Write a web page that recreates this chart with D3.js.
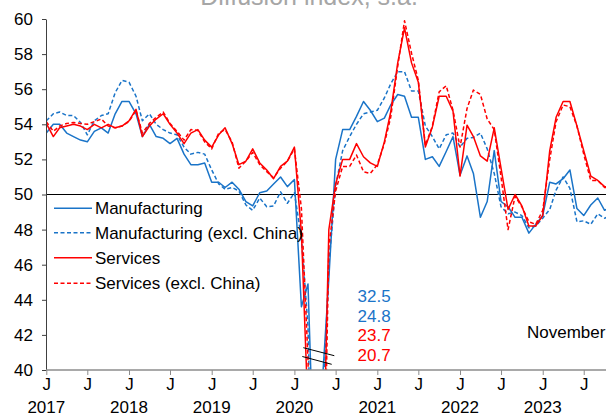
<!DOCTYPE html>
<html><head><meta charset="utf-8">
<script src="https://cdn.jsdelivr.net/npm/d3@7"></script>
<style>body{margin:0;background:#fff}svg{display:block;font-family:"Liberation Sans",Arial,sans-serif}</style>
</head><body><svg id="c" width="606" height="416"></svg>
<script>
const startYear = 2017, startMonth = 0, nMonths = 83;
const yTicks = [40, 42, 44, 46, 48, 50, 52, 54, 56, 58, 60];
const yearLabels = ["2017", "2018", "2019", "2020", "2021", "2022", "2023"];
const seriesNames = ["Manufacturing", "Manufacturing (excl. China)", "Services", "Services (excl. China)"];
const troughLabels = ["32.5", "24.8", "23.7", "20.7"];
const latestLabel = "November";
const titleText = "Diffusion index, s.a.";

const manufacturing = [
53.5,54.0,54.0,53.5,53.3,53.1,53.0,53.6,53.8,53.5,54.6,55.3,
55.3,54.6,53.3,54.0,53.3,53.2,52.9,53.2,52.3,51.7,51.7,51.8,
50.7,50.7,50.4,50.7,50.3,49.6,49.35,50.1,50.2,50.6,51.0,50.45,
50.85,43.6,44.9,32.5,38.8,45.2,52.0,53.7,53.7,54.45,55.3,54.8,
54.15,54.35,55.1,55.7,55.6,54.4,54.4,52.0,52.15,51.6,52.45,53.3,
51.1,52.2,51.2,48.7,49.6,52.5,49.6,49.3,48.7,48.7,47.8,48.3,
48.8,50.7,50.6,50.9,51.4,49.2,48.8,49.4,49.8,49.1,49.3];
const manufacturingExChina = [
54.2,54.6,54.7,54.5,54.5,54.1,53.4,54.2,54.5,54.6,55.8,56.5,
56.4,55.6,54.2,54.6,54.0,53.7,53.5,53.4,52.7,52.3,52.4,52.3,
51.4,50.6,50.3,50.4,50.2,49.4,49.1,49.8,49.3,49.35,50.15,49.5,
50.1,47.5,42.5,24.8,36.2,46.0,50.5,52.5,53.3,54.0,54.6,54.7,
54.8,55.5,56.3,57.0,57.0,55.9,55.9,53.9,53.3,52.6,53.4,53.5,
52.7,53.2,53.25,53.5,52.6,51.2,49.3,48.9,49.0,48.8,48.1,48.2,
48.65,49.15,50.25,51.0,50.35,48.45,48.5,48.3,48.9,48.65,48.8];
const services = [
54.05,53.3,53.8,53.9,54.0,53.9,53.7,54.0,53.8,54.0,53.8,53.9,
54.2,54.85,53.3,53.9,54.3,54.6,54.0,53.5,52.9,53.5,53.7,53.1,
52.7,53.4,53.8,52.9,51.7,51.9,52.6,51.8,51.4,50.9,51.6,51.9,
52.7,47.8,37.7,23.7,30.6,48.0,50.6,52.0,52.0,52.9,52.15,51.8,
51.6,53.0,54.7,57.5,59.5,57.5,56.4,52.7,53.85,55.6,55.6,54.75,
51.05,53.95,53.3,52.2,51.9,53.8,51.5,49.15,50.0,49.35,48.2,48.2,
48.8,52.5,54.4,55.3,55.3,53.9,52.5,51.05,50.8,50.45,50.4];
const servicesExChina = [
54.15,53.6,53.9,54.05,54.1,54.05,54.0,54.15,54.3,53.9,53.8,53.9,
54.15,54.8,53.5,54.05,54.4,54.7,54.05,53.6,53.1,53.7,53.65,53.0,
52.6,53.5,53.7,53.0,51.5,51.9,52.4,51.7,51.3,50.95,51.5,51.9,
52.6,49.2,40.6,20.7,26.0,47.0,50.2,51.6,51.6,52.25,51.3,51.2,
51.7,52.9,54.4,57.3,59.9,58.05,56.5,52.8,53.9,55.85,56.2,54.8,
52.7,54.9,55.95,55.7,54.3,53.7,51.0,48.0,49.9,49.3,48.45,48.3,
49.1,52.0,54.15,55.1,55.0,53.9,52.3,50.8,50.8,50.4,50.4];

const BLUE = "#1a74c8", RED = "#ff0000";
const series = [
  {name: seriesNames[0], values: manufacturing, color: BLUE, dash: null},
  {name: seriesNames[1], values: manufacturingExChina, color: BLUE, dash: "4,2.5"},
  {name: seriesNames[2], values: services, color: RED, dash: null},
  {name: seriesNames[3], values: servicesExChina, color: RED, dash: "4,2.5"}
];

const dates = d3.range(nMonths).map(i => new Date(startYear, startMonth + i, 1));
const svg = d3.select("#c");
const x = d3.scaleTime().domain([dates[0], dates[nMonths - 1]]).range([46.3, 611.6]);
const y = d3.scaleLinear().domain([40, 60]).range([370, 19]);

// title (partly cut at top)
svg.append("text").attr("x", 309).attr("y", 5).attr("text-anchor", "middle")
  .attr("font-size", 25).attr("fill", "#a6a6a6").text(titleText);

svg.append("defs").append("clipPath").attr("id", "plot")
  .append("rect").attr("x", 46).attr("y", 15).attr("width", 570).attr("height", 355);

// 50 line
svg.append("line").attr("x1", 46).attr("x2", 606).attr("y1", y(50)).attr("y2", y(50))
  .attr("stroke", "#000").attr("stroke-width", 1.1);

const line = d3.line().x((d, i) => x(dates[i])).y(d => y(d));
const g = svg.append("g").attr("clip-path", "url(#plot)");
series.forEach(s => {
  g.append("path").datum(s.values).attr("d", line).attr("fill", "none")
    .attr("stroke", s.color).attr("stroke-width", 1.5)
    .attr("stroke-dasharray", s.dash).attr("stroke-linejoin", "round");
});

// y axis
const ya = svg.append("g").attr("transform", "translate(46,0)")
  .call(d3.axisLeft(y).tickValues(yTicks).tickSize(4).tickSizeOuter(0).tickPadding(9));
ya.select(".domain").attr("stroke", "#404040");
ya.selectAll(".tick line").attr("stroke", "#404040");
ya.selectAll("text").attr("font-size", 17).attr("fill", "#000").attr("font-family", "Liberation Sans, Arial, sans-serif");

// x axis
const tickDates = dates.filter(d => d.getMonth() % 6 === 0);
const xa = svg.append("g").attr("transform", "translate(0,370)")
  .call(d3.axisBottom(x.copy().range([46.3, 611.6])).tickValues(tickDates).tickSize(5).tickSizeOuter(0)
    .tickPadding(3).tickFormat(() => "J"));
xa.select(".domain").attr("stroke", "#8c8c8c").attr("stroke-width", 1.5).attr("d", "M46,0H606");
xa.selectAll(".tick line").attr("stroke", "#8c8c8c");
xa.selectAll("text").attr("font-size", 17).attr("fill", "#000").attr("font-family", "Liberation Sans, Arial, sans-serif");
svg.append("g").selectAll("text").data(yearLabels).join("text")
  .attr("x", d => x(new Date(+d, 0, 1))).attr("y", 413).attr("text-anchor", "middle")
  .attr("font-size", 17).attr("fill", "#000").text(d => d);

// legend
const lg = svg.append("g");
const rows = [208.3, 232.7, 257.7, 283.3];
series.forEach((s, i) => {
  lg.append("line").attr("x1", 54).attr("x2", 92).attr("y1", rows[i]).attr("y2", rows[i])
    .attr("stroke", s.color).attr("stroke-width", 1.5).attr("stroke-dasharray", s.dash);
  lg.append("text").attr("x", 95).attr("y", rows[i]).attr("dy", "0.36em")
    .attr("font-size", 17).attr("fill", "#000").text(s.name);
});

// trough labels
const tb = [301.5, 321.5, 340.7, 360.7];
troughLabels.forEach((t, i) => {
  svg.append("text").attr("x", 357.5).attr("y", tb[i]).attr("font-size", 17)
    .attr("fill", series[i].color).text(t);
});

// break marks
[[303.3, 347.7, 334.3, 355.7], [302.3, 356.5, 331.7, 364.3]].forEach(c => {
  svg.append("line").attr("x1", c[0]).attr("y1", c[1]).attr("x2", c[2]).attr("y2", c[3])
    .attr("stroke", "#000").attr("stroke-width", 1);
});

svg.append("text").attr("x", 527).attr("y", 337.5).attr("font-size", 17).attr("fill", "#000").text(latestLabel);
</script></body></html>
